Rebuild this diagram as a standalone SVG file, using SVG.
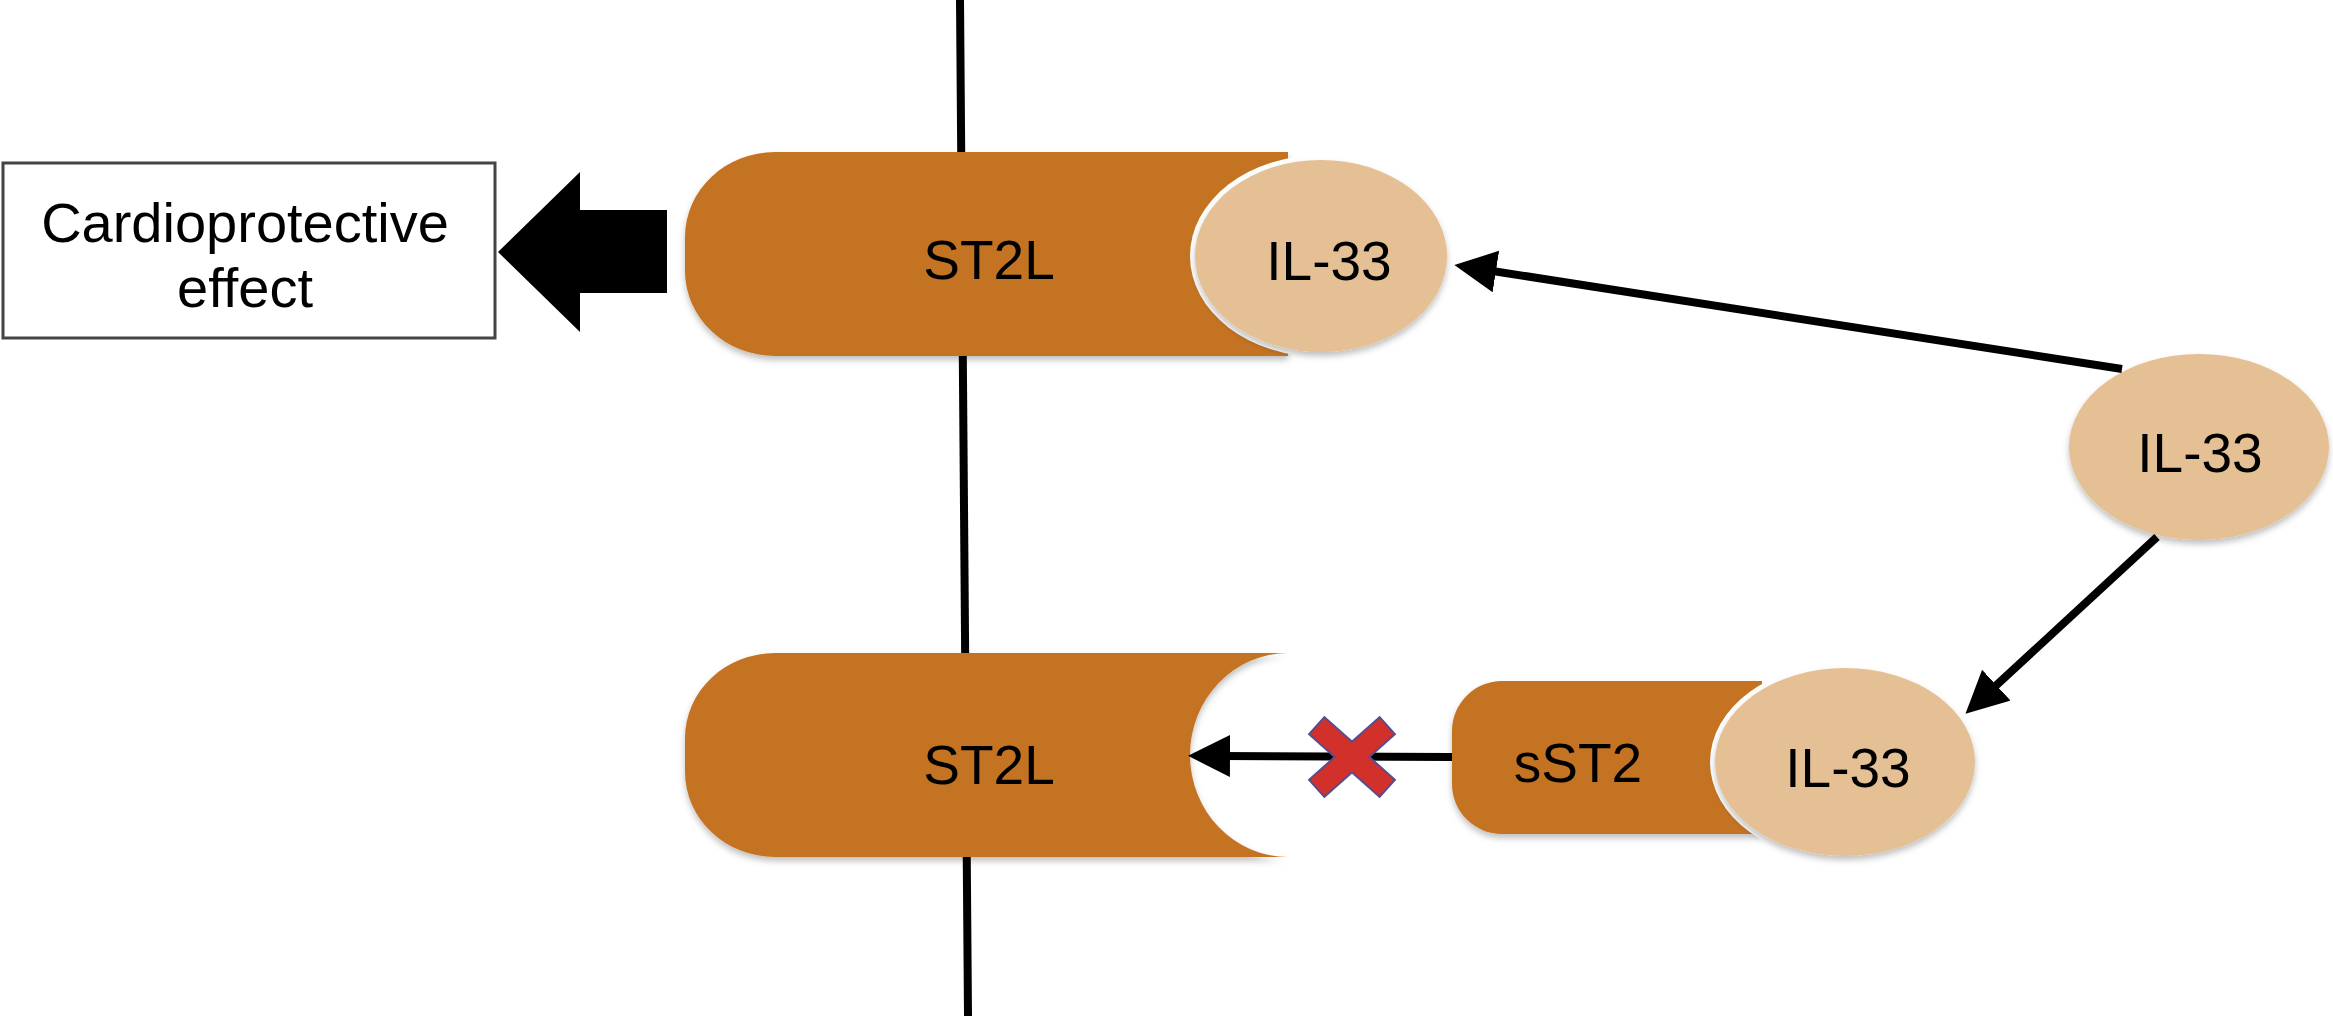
<svg xmlns="http://www.w3.org/2000/svg" width="2333" height="1016" viewBox="0 0 2333 1016">
<defs>
<filter id="sh" x="-10%" y="-10%" width="120%" height="130%">
<feDropShadow dx="0" dy="4" stdDeviation="3" flood-color="#000" flood-opacity="0.25"/>
</filter>
<marker id="ah" markerUnits="userSpaceOnUse" markerWidth="44" markerHeight="44" refX="10" refY="21" orient="auto">
<path d="M0,0 L42,21 L0,42 Z" fill="#000"/>
</marker>
</defs>
<style>
.rec{fill:#C47322;filter:url(#sh)}
.gap{fill:#fff}
.lig{fill:#E5C095;filter:url(#sh)}
.t{font-family:"Liberation Sans",Arial,sans-serif;font-size:55px;fill:#000;text-anchor:middle}
.c{stroke:#000;stroke-width:8;fill:none;marker-end:url(#ah)}
</style>
<rect width="2333" height="1016" fill="#fff"/>
<line x1="960" y1="0" x2="968" y2="1016" stroke="#000" stroke-width="8"/>

<g id="effect">
<rect x="3" y="163" width="492" height="175" fill="#fff" stroke="#444" stroke-width="3"/>
<text class="t" x="245" y="242" style="font-size:56px">Cardioprotective</text>
<text class="t" x="245" y="307" style="font-size:56px">effect</text>
</g>
<g id="bigarrow">
<path d="M498,252 L580,172 L580,210 L667,210 L667,293 L580,293 L580,332 Z" fill="#000"/>
</g>

<g id="st2l-top">
<path class="rec" d="M775,152 L1288,152 L1288,356 L775,356 A90,85 0 0 1 685,271 L685,237 A90,85 0 0 1 775,152 Z"/>
<text class="t" x="989" y="279">ST2L</text>
</g>
<g id="il33-bound">
<ellipse class="gap" cx="1321" cy="256" rx="131" ry="101"/>
<ellipse class="lig" cx="1321" cy="256" rx="126" ry="96"/>
<text class="t" x="1329" y="280">IL-33</text>
</g>
<g id="il33-free">
<ellipse class="lig" cx="2199" cy="447" rx="130" ry="93"/>
<text class="t" x="2200" y="472">IL-33</text>
</g>
<g id="st2l-bottom">
<path class="rec" d="M775,653 L1288,653 A98,102 0 0 0 1288,857 L775,857 A90,85 0 0 1 685,772 L685,738 A90,85 0 0 1 775,653 Z"/>
<text class="t" x="989" y="784">ST2L</text>
</g>
<g id="sst2">
<path class="rec" d="M1502,681 L1762,681 L1762,834 L1502,834 A50,50 0 0 1 1452,784 L1452,731 A50,50 0 0 1 1502,681 Z"/>
<text class="t" x="1578" y="782">sST2</text>
</g>
<g id="il33-sst2">
<ellipse class="gap" cx="1845" cy="762" rx="135" ry="99"/>
<ellipse class="lig" cx="1845" cy="762" rx="130" ry="94"/>
<text class="t" x="1848" y="787">IL-33</text>
</g>

<g id="connectors">
<line class="c" x1="2122" y1="369" x2="1486" y2="270"/>
<line class="c" x1="2157" y1="537" x2="1989" y2="692"/>
<line class="c" x1="1452" y1="757" x2="1220" y2="756"/>
</g>
<g id="block">
<path d="M1316,725 L1388,789 M1388,725 L1316,789" stroke="#5A4C8C" stroke-width="25" fill="none"/>
<path d="M1317.5,726.3 L1386.5,787.7 M1386.5,726.3 L1317.5,787.7" stroke="#D2302B" stroke-width="21" fill="none"/>
</g>
</svg>
